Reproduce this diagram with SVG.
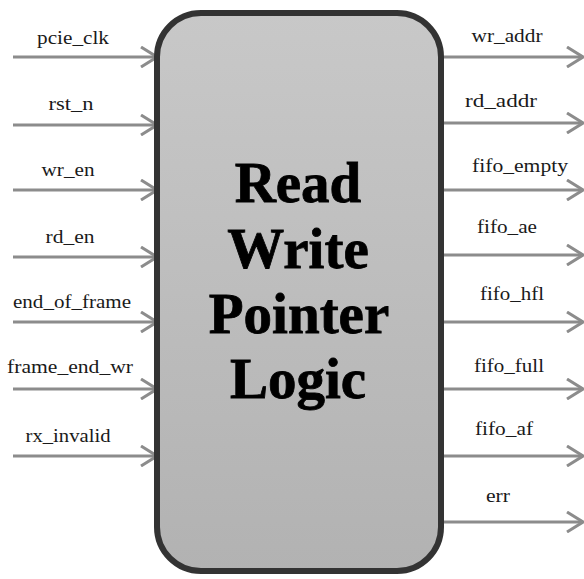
<svg xmlns="http://www.w3.org/2000/svg" width="584" height="579" viewBox="0 0 584 579">
<style>
.lbl{font-family:"Liberation Serif","Times New Roman",serif;font-size:18px;fill:#1a1a1a;text-anchor:middle}
.title{font-family:"Liberation Serif","Times New Roman",serif;font-size:57px;font-weight:bold;fill:#000;stroke:#000;stroke-width:0.8;text-anchor:middle}
.wire{stroke:#8c8c8c;stroke-width:3;fill:none;marker-end:url(#arr)}
</style>
<defs>
<linearGradient id="g" x1="0" y1="0" x2="0" y2="1">
<stop offset="0" stop-color="#c8c8c8"/>
<stop offset="1" stop-color="#b2b2b2"/>
</linearGradient>
<marker id="arr" viewBox="0 0 18 22" refX="17" refY="11" markerWidth="18" markerHeight="22" markerUnits="userSpaceOnUse" orient="auto">
<path d="M1,1 L17,11 L1,21" fill="none" stroke="#8c8c8c" stroke-width="3"/>
</marker>
</defs>
<rect width="584" height="579" fill="#fff"/>
<g id="connectors">
<line class="wire" x1="13" y1="57" x2="157" y2="57"/>
<line class="wire" x1="13" y1="125" x2="157" y2="125"/>
<line class="wire" x1="13" y1="190" x2="157" y2="190"/>
<line class="wire" x1="13" y1="257" x2="157" y2="257"/>
<line class="wire" x1="13" y1="322" x2="157" y2="322"/>
<line class="wire" x1="13" y1="389" x2="157" y2="389"/>
<line class="wire" x1="13" y1="456" x2="157" y2="456"/>
<line class="wire" x1="443" y1="57" x2="583" y2="57"/>
<line class="wire" x1="443" y1="123" x2="583" y2="123"/>
<line class="wire" x1="443" y1="190" x2="583" y2="190"/>
<line class="wire" x1="443" y1="255" x2="583" y2="255"/>
<line class="wire" x1="443" y1="322" x2="583" y2="322"/>
<line class="wire" x1="443" y1="389" x2="583" y2="389"/>
<line class="wire" x1="443" y1="456" x2="583" y2="456"/>
<line class="wire" x1="443" y1="522" x2="583" y2="522"/>
</g>
<g id="block">
<rect x="157" y="13" width="284" height="558" rx="44" ry="44" fill="url(#g)" stroke="#333" stroke-width="6"/>
<text class="title" x="298" y="202">Read</text>
<text class="title" x="298" y="268">Write</text>
<text class="title" x="299" y="333">Pointer</text>
<text class="title" x="298" y="398">Logic</text>
</g>
<g id="labels-in">
<text class="lbl" x="73" y="44" textLength="72" lengthAdjust="spacingAndGlyphs">pcie_clk</text>
<text class="lbl" x="71" y="110" textLength="45" lengthAdjust="spacingAndGlyphs">rst_n</text>
<text class="lbl" x="68" y="176" textLength="53" lengthAdjust="spacingAndGlyphs">wr_en</text>
<text class="lbl" x="70" y="243" textLength="49" lengthAdjust="spacingAndGlyphs">rd_en</text>
<text class="lbl" x="72" y="308" textLength="118" lengthAdjust="spacingAndGlyphs">end_of_frame</text>
<text class="lbl" x="70" y="373" textLength="126" lengthAdjust="spacingAndGlyphs">frame_end_wr</text>
<text class="lbl" x="68" y="442" textLength="85" lengthAdjust="spacingAndGlyphs">rx_invalid</text>
</g>
<g id="labels-out">
<text class="lbl" x="507" y="42" textLength="71" lengthAdjust="spacingAndGlyphs">wr_addr</text>
<text class="lbl" x="501" y="107" textLength="72" lengthAdjust="spacingAndGlyphs">rd_addr</text>
<text class="lbl" x="520" y="172" textLength="96" lengthAdjust="spacingAndGlyphs">fifo_empty</text>
<text class="lbl" x="507" y="233" textLength="60" lengthAdjust="spacingAndGlyphs">fifo_ae</text>
<text class="lbl" x="512" y="300" textLength="64" lengthAdjust="spacingAndGlyphs">fifo_hfl</text>
<text class="lbl" x="509" y="372" textLength="70" lengthAdjust="spacingAndGlyphs">fifo_full</text>
<text class="lbl" x="504" y="435" textLength="58" lengthAdjust="spacingAndGlyphs">fifo_af</text>
<text class="lbl" x="498" y="502" textLength="24" lengthAdjust="spacingAndGlyphs">err</text>
</g>
</svg>
